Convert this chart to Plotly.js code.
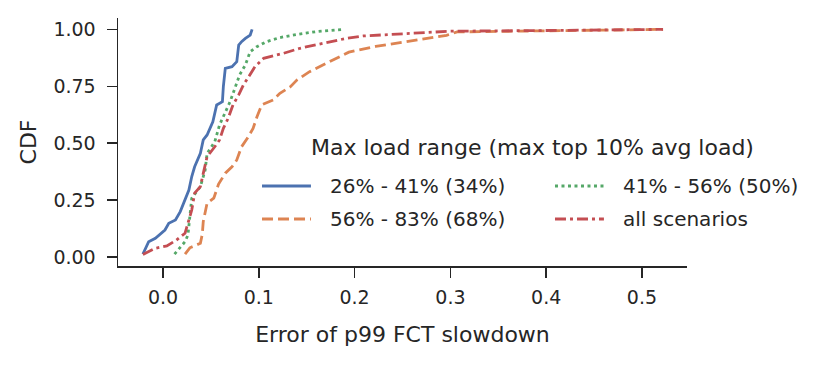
<!DOCTYPE html>
<html>
<head>
<meta charset="utf-8">
<script src="https://cdn.plot.ly/plotly-3.0.1.min.js"></script>
<style>
  html, body { margin: 0; padding: 0; background: #fff; }
  #chart { width: 829px; height: 365px; }
</style>
</head>
<body>
<div id="chart"></div>
<script>
// CDF of the p99 FCT slowdown error, one curve per max-load range

const lowX = [-0.021, -0.015, -0.008, 0.002, 0.006, 0.013, 0.018, 0.023, 0.027, 0.030, 0.033, 0.039, 0.042, 0.046, 0.050, 0.052, 0.056, 0.062, 0.063, 0.065, 0.072, 0.077, 0.079, 0.082, 0.086, 0.091, 0.093];
const lowY = [0.012, 0.067, 0.082, 0.118, 0.148, 0.162, 0.199, 0.250, 0.294, 0.353, 0.396, 0.455, 0.514, 0.536, 0.574, 0.594, 0.668, 0.682, 0.750, 0.829, 0.836, 0.858, 0.931, 0.946, 0.960, 0.975, 1.0];

const midX = [0.012, 0.023, 0.026, 0.028, 0.030, 0.039, 0.044, 0.046, 0.054, 0.059, 0.065, 0.070, 0.075, 0.080, 0.086, 0.091, 0.098, 0.108, 0.122, 0.140, 0.160, 0.188];
const midY = [0.012, 0.067, 0.096, 0.177, 0.258, 0.309, 0.382, 0.455, 0.506, 0.580, 0.638, 0.682, 0.741, 0.800, 0.844, 0.902, 0.924, 0.946, 0.964, 0.978, 0.990, 1.0];

const highX = [0.023, 0.028, 0.039, 0.041, 0.042, 0.046, 0.053, 0.058, 0.065, 0.072, 0.077, 0.082, 0.088, 0.094, 0.098, 0.103, 0.115, 0.122, 0.133, 0.140, 0.153, 0.174, 0.194, 0.222, 0.251, 0.296, 0.307, 0.400, 0.522];
const highY = [0.012, 0.040, 0.060, 0.100, 0.155, 0.236, 0.258, 0.320, 0.368, 0.396, 0.426, 0.484, 0.521, 0.565, 0.615, 0.668, 0.690, 0.719, 0.748, 0.778, 0.814, 0.858, 0.900, 0.925, 0.945, 0.974, 0.989, 0.993, 1.0];

const allX = [-0.021, -0.008, 0.004, 0.014, 0.023, 0.026, 0.030, 0.033, 0.039, 0.042, 0.046, 0.054, 0.059, 0.063, 0.068, 0.073, 0.079, 0.084, 0.091, 0.096, 0.105, 0.126, 0.143, 0.167, 0.192, 0.209, 0.254, 0.300, 0.400, 0.522];
const allY = [0.010, 0.038, 0.048, 0.074, 0.104, 0.148, 0.206, 0.280, 0.309, 0.367, 0.440, 0.484, 0.514, 0.565, 0.609, 0.668, 0.712, 0.756, 0.800, 0.836, 0.873, 0.895, 0.917, 0.939, 0.961, 0.971, 0.981, 0.992, 0.995, 1.0];

const seriesNames = ["26% - 41% (34%)", "56% - 83% (68%)", "41% - 56% (50%)", "all scenarios"];
const legendTitle = "Max load range (max top 10% avg load)";
const xTicks = [0, 0.1, 0.2, 0.3, 0.4, 0.5];
const yTicks = [0, 0.25, 0.5, 0.75, 1.0];

const FONT = "DejaVu Sans, sans-serif";
const INK = "#262626";

// seaborn "deep" colours + matplotlib-like dash patterns
const styles = [
  { color: "#4C72B0", width: 2.8, dash: "solid" },
  { color: "#DD8452", width: 2.8, dash: "11px,5px" },
  { color: "#55A868", width: 2.8, dash: "3px,3.5px" },
  { color: "#C44E52", width: 2.8, dash: "11px,4px,3px,4px" }
];
const seriesX = [lowX, highX, midX, allX];
const seriesY = [lowY, highY, midY, allY];

const traces = seriesNames.map((name, i) => ({
  type: "scatter",
  mode: "lines",
  x: seriesX[i],
  y: seriesY[i],
  name: name,
  line: styles[i]
}));

// legend drawn by hand, two columns like the matplotlib one (column-major)
const legendCols = [0.2531, 0.768];   // paper x of the sample line start
const legendRows = [0.3226, 0.1895];  // paper y of each row
const sampleLen = 0.086;
const legendShapes = [];
const legendNotes = [];
seriesNames.forEach((name, i) => {
  const col = Math.floor(i / 2), row = i % 2;
  const x0 = legendCols[col], y = legendRows[row];
  legendShapes.push({
    type: "line", xref: "paper", yref: "paper",
    x0: x0, x1: x0 + sampleLen, y0: y, y1: y,
    line: styles[i]
  });
  legendNotes.push({
    xref: "paper", yref: "paper", x: x0 + sampleLen + 0.03, y: y,
    xanchor: "left", yanchor: "middle", showarrow: false,
    text: name, font: { size: 20 }
  });
});
legendNotes.push({
  xref: "paper", yref: "paper", x: 0.7276, y: 0.4798,
  xanchor: "center", yanchor: "middle", showarrow: false,
  text: legendTitle, font: { size: 22 }
});

const axisStyle = {
  showgrid: false,
  zeroline: false,
  showline: true,
  linecolor: INK,
  linewidth: 1.5,
  ticks: "outside",
  ticklen: 10,
  tickwidth: 1.5,
  tickcolor: INK,
  tickfont: { size: 19 }
};

const layout = {
  width: 829,
  height: 365,
  margin: { l: 118, r: 142, t: 18, b: 99, autoexpand: false },
  paper_bgcolor: "#fff",
  plot_bgcolor: "#fff",
  font: { family: FONT, color: INK, size: 19 },
  showlegend: false,
  xaxis: Object.assign({}, axisStyle, {
    range: [-0.047, 0.547],
    tickvals: xTicks,
    ticktext: xTicks.map(v => v.toFixed(1)),
    ticklabelstandoff: 4,
    title: { text: "Error of p99 FCT slowdown", font: { size: 22 }, standoff: 19 }
  }),
  yaxis: Object.assign({}, axisStyle, {
    range: [-0.04, 1.05],
    tickvals: yTicks,
    ticktext: yTicks.map(v => v.toFixed(2)),
    ticklabelstandoff: 7,
    title: { text: "CDF", font: { size: 22 }, standoff: 10 }
  }),
  shapes: legendShapes,
  annotations: legendNotes
};

Plotly.newPlot("chart", traces, layout, { displayModeBar: false, staticPlot: true });
</script>
</body>
</html>
